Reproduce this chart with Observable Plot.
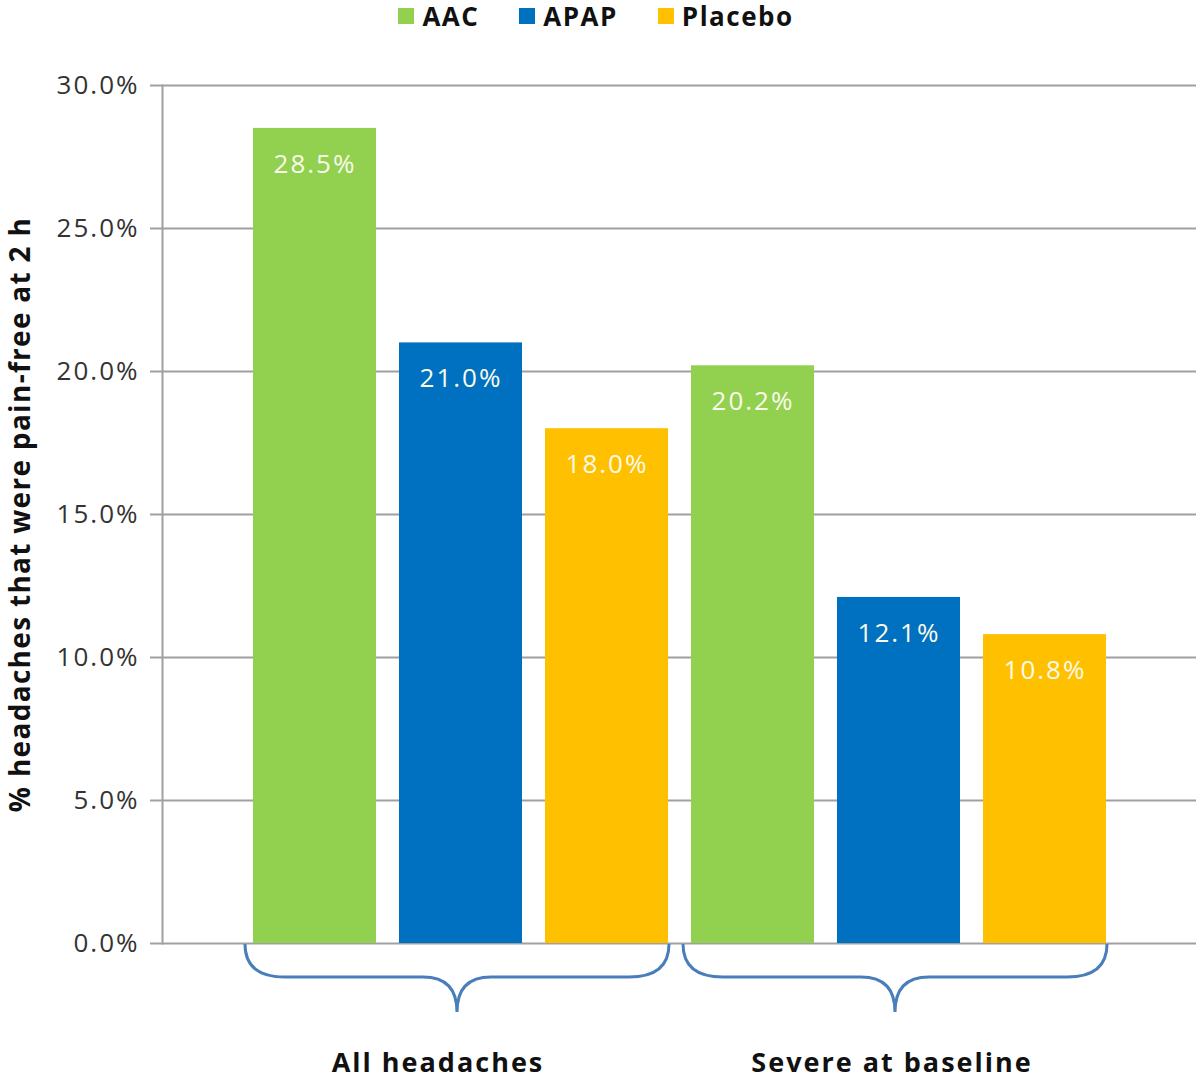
<!DOCTYPE html>
<html>
<head>
<meta charset="utf-8">
<script src="https://cdn.jsdelivr.net/npm/d3@7"></script>
<script src="https://cdn.jsdelivr.net/npm/@observablehq/plot@0.6"></script>
<style>
  html, body { margin: 0; padding: 0; background: #fff; }
  body { width: 1200px; font-family: "Open Sans", sans-serif; }
  #legend { height: 32px; display: flex; justify-content: center; align-items: center; gap: 40px; padding-right: 8px; }
  .item { display: flex; align-items: center; gap: 8px; font-weight: 700; font-size: 26px; letter-spacing: 1.5px; color: #111; }
  .sw { width: 16px; height: 16px; display: inline-block; }
  svg { display: block; }
  .tick-lbl text { letter-spacing: 2px; }
  .bar-lbl text { letter-spacing: 2px; }
  .grp-lbl text { letter-spacing: 2px; }
  .y-lbl text { letter-spacing: 1.3px; }
</style>
</head>
<body>
<div id="legend"></div>
<div id="chart"></div>
<script>
// ---- data ----
const groups = ["All headaches", "Severe at baseline"];
const series = ["AAC", "APAP", "Placebo"];
const aacValues = [28.5, 20.2];
const apapValues = [21.0, 12.1];
const placeboValues = [18.0, 10.8];
const yTicks = [0, 5, 10, 15, 20, 25, 30];
const colors = ["#92D050", "#0070C0", "#FFC000"];
const yLabel = "% headaches that were pain-free at 2 h";

// ---- table ----
const valuesBySeries = [aacValues, apapValues, placeboValues];
const data = [];
groups.forEach((g, gi) => series.forEach((s, si) => {
  data.push({group: g, series: s, key: g + "|" + s, value: valuesBySeries[si][gi]});
}));
const keys = data.map(d => d.key);

// ---- legend ----
const legend = document.getElementById("legend");
series.forEach((s, i) => {
  const it = document.createElement("div");
  it.className = "item";
  const sw = document.createElement("span");
  sw.className = "sw";
  sw.style.background = colors[i];
  const t = document.createElement("span");
  t.textContent = s;
  it.appendChild(sw); it.appendChild(t);
  legend.appendChild(it);
});

// braces drawn from the x/y scales
function braces(index, scales, values, dims) {
  const g = d3.create("svg:g");
  const bw = scales.x.bandwidth ? scales.x.bandwidth() : 0;
  const y0 = scales.y(0) + 1;
  const yh = y0 + 33, yt = y0 + 68, r = 40, rt = 34;
  groups.forEach(grp => {
    const first = scales.x(grp + "|" + series[0]);
    const last = scales.x(grp + "|" + series[series.length - 1]);
    const x0 = first - 8, x1 = last + bw + 1, xm = (x0 + x1) / 2;
    const p = `M${x0},${y0} Q${x0},${yh} ${x0 + r},${yh} L${xm - rt},${yh} Q${xm},${yh} ${xm},${yt} Q${xm},${yh} ${xm + rt},${yh} L${x1 - r},${yh} Q${x1},${yh} ${x1},${y0}`;
    g.append("path").attr("d", p).attr("fill", "none").attr("stroke", "#4A7EBB").attr("stroke-width", 3);
  });
  return g.node();
}

const groupLabels = groups.map(g => ({key: g + "|" + series[1], label: g}));

const chart = Plot.plot({
  width: 1200,
  height: 1047,
  marginTop: 53,
  marginBottom: 136,
  marginLeft: 162,
  marginRight: 4,
  style: {fontFamily: "'Open Sans', sans-serif", background: "#fff"},
  x: {domain: keys, range: [240.5, 1118.5], paddingInner: 0.16, paddingOuter: 0.08, axis: null},
  y: {domain: [0, 30], axis: null},
  color: {domain: series, range: colors},
  marks: [
    Plot.gridY(yTicks, {stroke: "#A0A0A0", strokeOpacity: 1, strokeWidth: 2}),
    Plot.axisY(yTicks, {tickSize: 12, tickPadding: 11, fontSize: 26, stroke: "#A0A0A0", strokeWidth: 2, fill: "#333", tickFormat: d => d.toFixed(1) + "%", label: null, className: "tick-lbl"}),
    Plot.frame({anchor: "left", stroke: "#A0A0A0", strokeWidth: 2}),
    Plot.barY(data, {x: "key", y: "value", fill: "series"}),
    Plot.text(data, {x: "key", y: "value", text: d => d.value.toFixed(1) + "%", dy: 36, fill: "#FAFAEB", fontSize: 26, className: "bar-lbl"}),
    braces,
    Plot.text(groupLabels.slice(0, 1), {x: "key", y: 0, text: "label", dy: 120, dx: -23, fontSize: 27, fontWeight: 700, fill: "#111", className: "grp-lbl"}),
    Plot.text(groupLabels.slice(1), {x: "key", y: 0, text: "label", dy: 120, dx: -7, fontSize: 27, fontWeight: 700, fill: "#111", className: "grp-lbl"}),
    Plot.text([yLabel], {frameAnchor: "left", text: d => d, rotate: -90, dx: -141, textAnchor: "middle", fontSize: 28, fontWeight: 700, fill: "#111", className: "y-lbl"})
  ]
});
document.getElementById("chart").appendChild(chart);
</script>
</body>
</html>
